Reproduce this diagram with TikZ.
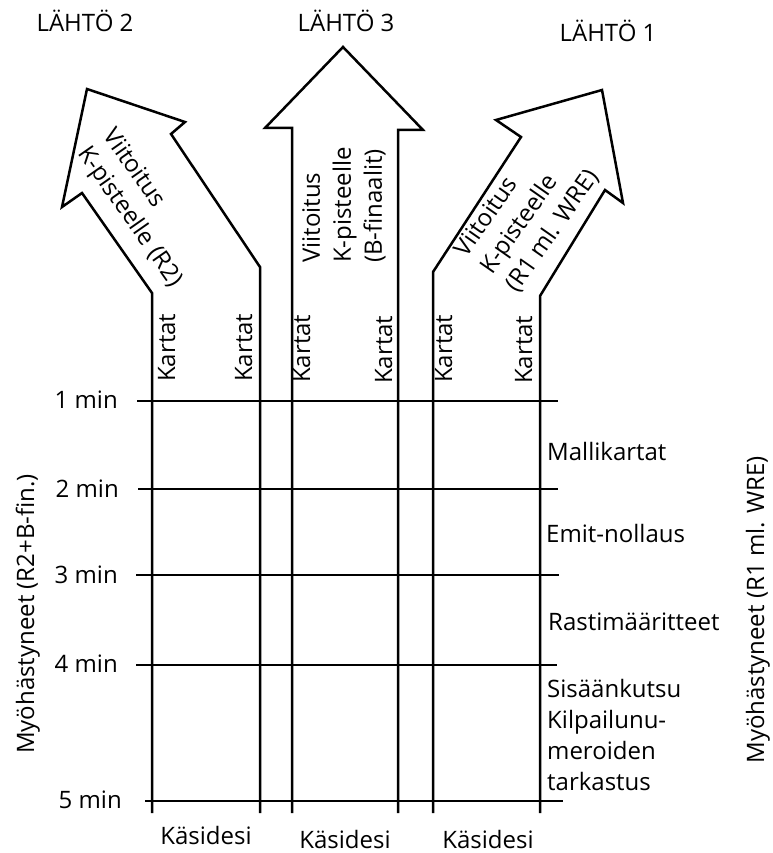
\documentclass[tikz,border=0pt]{standalone}
\usepackage{fontspec}
\setmainfont{Open Sans}
\begin{document}
\begin{tikzpicture}[x=1pt,y=-1pt,
  every node/.style={inner sep=0pt, font=\fontsize{24}{31}\selectfont},
  ln/.style={line width=2.5pt, line join=miter, black},
  kart/.style={rotate=90, anchor=base west},
  lbl/.style={anchor=west},
  tm/.style={anchor=east}]
\useasboundingbox (0,0) rectangle (772,853);

% titles
\node[anchor=base] (t2) at (85,32) {LÄHTÖ 2};
\node[anchor=base] (t3) at (346,32) {LÄHTÖ 3};
\node[anchor=base] (t1) at (608,42) {LÄHTÖ 1};

% arrows
\draw[ln] (152,813) -- (152,293) -- (82,193) -- (62,207) -- (87,89) -- (185,122) -- (171,134) -- (260,267) -- (260,813);
\draw[ln] (292,813) -- (292,128) -- (265,128) -- (343,47) -- (423,130) -- (398,130) -- (398,813);
\draw[ln] (433,813) -- (433,272) -- (521,137) -- (496,120) -- (602,90) -- (623,203) -- (605,190) -- (540,296) -- (540,813);

% arrow texts
\node[rotate=-55, align=left, anchor=north west] (a2) at (117,125) {Viitoitus\\K-pisteelle (R2)};
\node[rotate=90, align=left, anchor=north west] (a3) at (302,263) {Viitoitus\\K-pisteelle\\(B-finaalit)};
\node[rotate=55, align=left, anchor=north west] (a1) at (452,248) {Viitoitus\\K-pisteelle\\(R1 ml. WRE)};

% Kartat
\node[kart] (k1) at (175,382) {Kartat};
\node[kart] (k2) at (252,382) {Kartat};
\node[kart] (k3) at (310,383) {Kartat};
\node[kart] (k4) at (392,384) {Kartat};
\node[kart] (k5) at (452,383) {Kartat};
\node[kart] (k6) at (532,384) {Kartat};

% time lines
\draw[ln] (137,401) -- (558,401);
\draw[ln] (138,489) -- (558,489);
\draw[ln] (136,575) -- (559,575);
\draw[ln] (136,665) -- (557,665);
\draw[ln] (145,801) -- (563,801);

\node[tm] (m1) at (118,400) {1 min};
\node[tm] (m2) at (119,489) {2 min};
\node[tm] (m3) at (118,575) {3 min};
\node[tm] (m4) at (118,664) {4 min};
\node[tm] (m5) at (122,800) {5 min};

% right labels
\node[lbl] (r1) at (547,451) {Mallikartat};
\node[lbl] (r2) at (546,533) {Emit-nollaus};
\node[lbl] (r3) at (548,622) {Rastimääritteet};
\node[anchor=north west, align=left] (r4) at (547,679) {Sisäänkutsu\\Kilpailunu-\\meroiden\\tarkastus};

% bottom labels
\node[anchor=base] (h1) at (206,844) {Käsidesi};
\node[anchor=base] (h2) at (345,848) {Käsidesi};
\node[anchor=base] (h3) at (488,848) {Käsidesi};

% side labels
\node[rotate=90, anchor=base] (s1) at (34,614) {Myöhästyneet (R2+B-fin.)};
\node[rotate=90, anchor=base] (s2) at (764,610) {Myöhästyneet (R1 ml. WRE)};
\end{tikzpicture}
\end{document}
